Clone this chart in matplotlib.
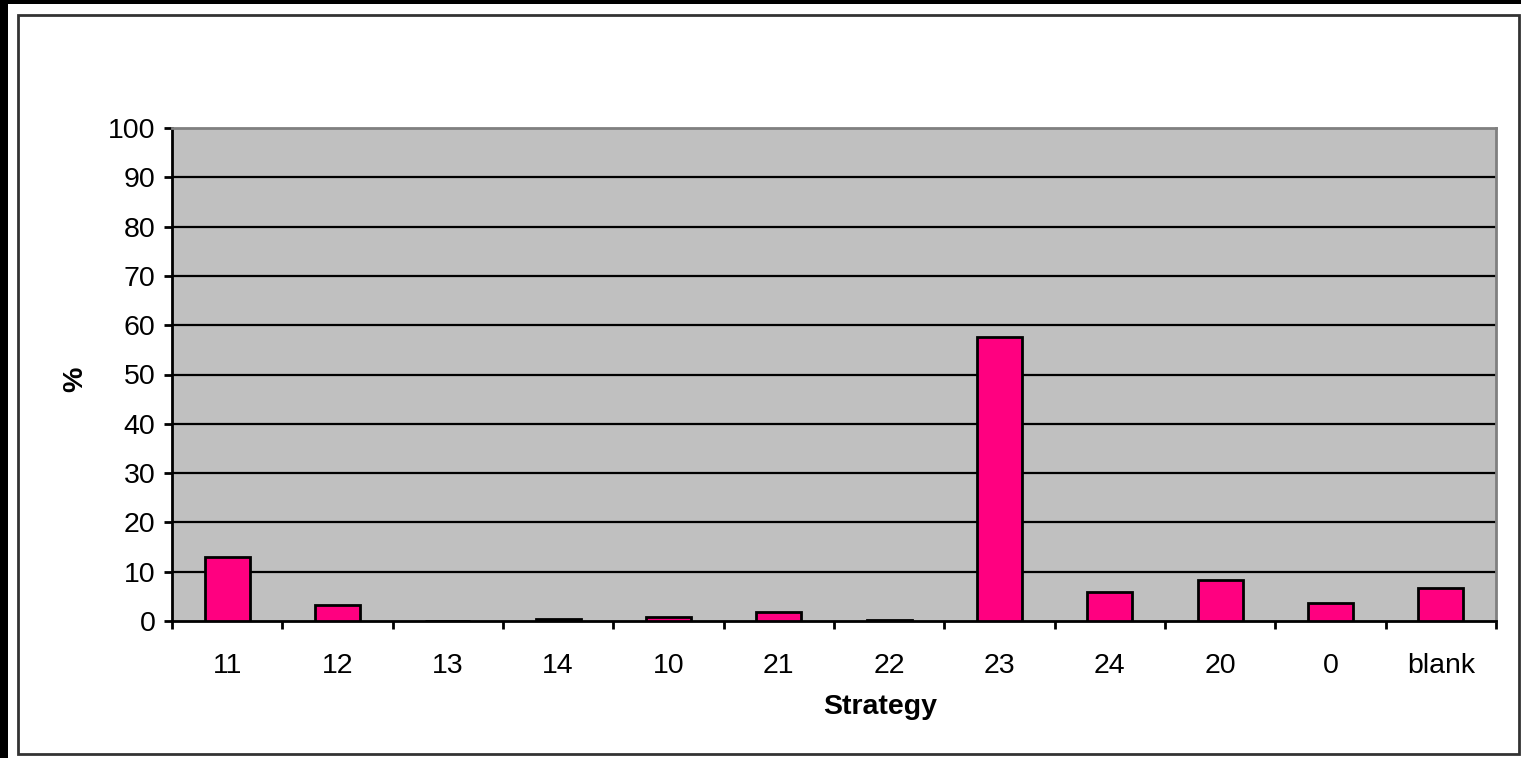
import matplotlib
matplotlib.use("Agg")
import matplotlib.pyplot as plt
from matplotlib.patches import Rectangle
import numpy as np

categories = ["11", "12", "13", "14", "10", "21", "22", "23", "24", "20", "0", "blank"]
values = [13.0, 3.2, 0.0, 0.5, 0.8, 1.8, 0.3, 57.6, 5.9, 8.3, 3.6, 6.7]
yticks = [0, 10, 20, 30, 40, 50, 60, 70, 80, 90, 100]

plt.rcParams['font.family'] = ['Liberation Sans', 'DejaVu Sans']
FS = 20.5

W, H = 1521, 758
fig = plt.figure(figsize=(W / 100, H / 100), dpi=100)
fig.patch.set_facecolor('white')

# outer black band (left and top)
fig.patches.append(Rectangle((0, 0), 8 / W, 1, transform=fig.transFigure,
                             facecolor='black', edgecolor='none', zorder=0))
fig.patches.append(Rectangle((0, 1 - 4 / H), 1, 4 / H, transform=fig.transFigure,
                             facecolor='black', edgecolor='none', zorder=0))
# inner chart-area border
fig.patches.append(Rectangle((18 / W, (H - 754) / H), (1519 - 18) / W, (754 - 15) / H,
                             transform=fig.transFigure, facecolor='none',
                             edgecolor='#333333', linewidth=2, zorder=1))

left, right = 172 / W, 1496 / W
bottom, top = (H - 621) / H, (H - 128) / H
ax = fig.add_axes([left, bottom, right - left, top - bottom])
ax.set_facecolor('#C0C0C0')

x = np.arange(len(categories))
ax.bar(x, values, width=0.41, color='#FF0080', edgecolor='black', linewidth=2, zorder=3)

ax.set_xlim(-0.5, len(categories) - 0.5)
ax.set_ylim(0, 100)
ax.set_yticks(yticks)
ax.set_yticklabels([str(t) for t in yticks], fontsize=FS)
for t in yticks[1:-1]:
    ax.axhline(t, color='black', linewidth=1.6, zorder=2)

ax.set_xticks(np.arange(len(categories) + 1) - 0.5, minor=False)
ax.set_xticklabels([])
ax.set_xticks(x, minor=True)
ax.set_xticklabels(categories, minor=True, fontsize=FS)
ax.tick_params(axis='x', which='minor', length=0, pad=23)
ax.tick_params(axis='x', which='major', direction='out', length=6, width=2, color='black')
ax.tick_params(axis='y', direction='out', length=6, width=2, color='black', pad=6)

for s in ['left', 'bottom']:
    ax.spines[s].set_color('black')
    ax.spines[s].set_linewidth(2)
for s in ['top', 'right']:
    ax.spines[s].set_color('#808080')
    ax.spines[s].set_linewidth(2)

ax.set_xlabel('Strategy', fontsize=FS, fontweight='bold', labelpad=7)
ax.xaxis.set_label_coords(0.535, -0.148)
ax.set_ylabel('%', fontsize=FS, fontweight='bold')
ax.yaxis.set_label_coords(-0.063, 0.49)

fig.savefig('out.png', dpi=100, facecolor='white')
